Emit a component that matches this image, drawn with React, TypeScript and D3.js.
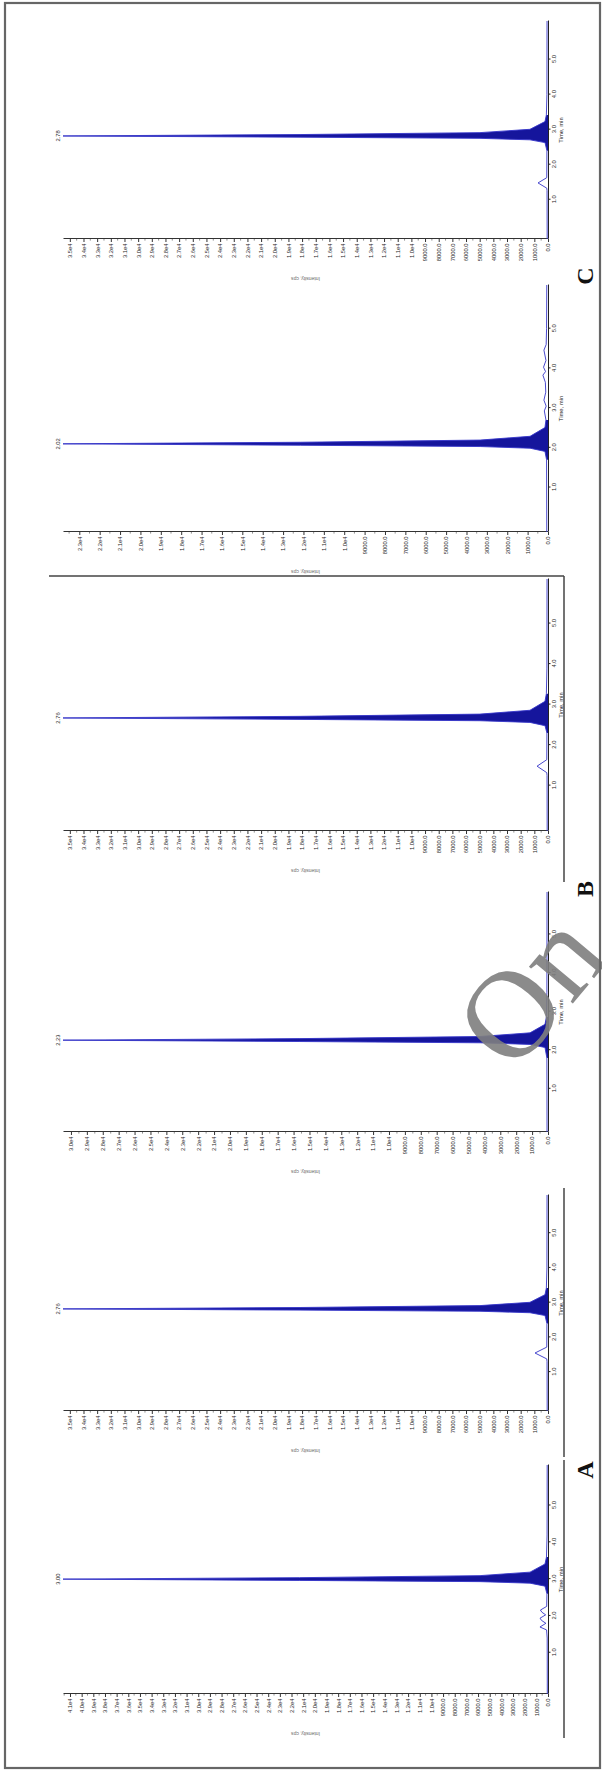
import React, { useEffect, useRef } from 'react';
import * as d3 from 'd3';

// Six chromatograms (A, B, C pairs). The whole page is rotated 90° CCW,
// so everything is drawn in landscape space and then turned.

const timeTicks = [1.0, 2.0, 3.0, 4.0, 5.0];
const groupLetters = ['A', 'B', 'C'];
const peakLabels = ['3.00', '2.76', '2.23', '2.76', '2.02', '2.78'];
const intensityMax = [41600, 35500, 30500, 35500, 23800, 35500];

// [time (min), intensity (cps)]
const traceA1 = [
  [-0.12, 60], [1.4, 70], [1.62, 120], [1.7, 690], [1.8, 180], [1.88, 560], [1.94, 680],
  [2.03, 200], [2.1, 520], [2.16, 650], [2.26, 110], [2.6, 90], [2.81, 260], [2.89, 1540],
  [2.932, 5830], [2.965, 21300], [3.0, 41600], [3.04, 21300], [3.095, 5830], [3.19, 1540],
  [3.41, 260], [3.6, 130], [4.2, 80], [6.1, 70],
];
const traceA2 = [
  [-0.12, 60], [1.3, 70], [1.38, 90], [1.55, 950], [1.72, 90], [2.4, 80], [2.63, 220],
  [2.71, 1320], [2.752, 4980], [2.785, 18150], [2.82, 35500], [2.86, 18150], [2.915, 4980],
  [3.01, 1320], [3.23, 220], [3.42, 120], [4.0, 80], [6.1, 70],
];
const traceB1 = [
  [-0.12, 60], [1.8, 70], [2.07, 190], [2.15, 1130], [2.192, 4280], [2.225, 15600],
  [2.26, 30500], [2.3, 15600], [2.355, 4280], [2.45, 1130], [2.67, 190], [2.86, 100],
  [3.5, 70], [6.1, 60],
];
const traceB2 = [
  [-0.12, 60], [1.25, 70], [1.32, 90], [1.48, 800], [1.64, 90], [2.3, 80], [2.48, 220],
  [2.56, 1320], [2.602, 4980], [2.635, 18150], [2.67, 35500], [2.71, 18150], [2.765, 4980],
  [2.86, 1320], [3.08, 220], [3.27, 120], [3.9, 80], [6.1, 70],
];
const traceC1 = [
  [-0.12, 60], [1.7, 70], [1.91, 150], [1.99, 880], [2.032, 3330], [2.065, 12150],
  [2.1, 23800], [2.14, 12150], [2.195, 3330], [2.29, 880], [2.51, 150], [2.7, 100],
  [2.93, 180], [3.05, 90], [3.2, 200], [3.4, 110], [3.65, 130], [3.83, 250], [3.92, 120],
  [4.03, 220], [4.2, 100], [4.46, 200], [4.6, 90], [5.0, 70], [6.1, 60],
];
const traceC2 = [
  [-0.12, 60], [1.26, 70], [1.33, 90], [1.48, 730], [1.63, 90], [2.4, 80], [2.63, 220],
  [2.71, 1320], [2.752, 4980], [2.785, 18150], [2.82, 35500], [2.86, 18150], [2.915, 4980],
  [3.01, 1320], [3.23, 220], [3.42, 120], [4.0, 80], [6.1, 70],
];
const traces = [traceA1, traceA2, traceB1, traceB2, traceC1, traceC2];

// layout (landscape coordinates, before the rotation)
const W = 602;
const H = 1771;
const TIME_DOMAIN = [-0.12, 6.1];
const Y_ZERO = 548;
const Y_TOP = 63;
const frames = [
  { x0: 77, x1: 306 },
  { x0: 360, x1: 576 },
  { x0: 639, x1: 879 },
  { x0: 940, x1: 1192 },
  { x0: 1239, x1: 1486 },
  { x0: 1532, x1: 1750 },
];
const letterX = [301, 882, 1495];
const SANS = 'Liberation Sans, Arial, sans-serif';
const SERIF = 'Liberation Serif, Times New Roman, serif';

const fmtIntensity = (v) => (v === 0 ? '0.0' : v < 10000 ? v.toFixed(1) : `${(v / 10000).toFixed(1)}e4`);

export default function App() {
  const svgRef = useRef(null);

  useEffect(() => {
    const svg = d3.select(svgRef.current);
    svg.selectAll('*').remove();
    svg.append('rect').attr('width', W).attr('height', H).attr('fill', '#fff');

    const g = svg.append('g').attr('transform', `translate(0,${H}) rotate(-90)`);

    traces.forEach((data, i) => {
      const f = frames[i];
      const max = intensityMax[i];
      const x = d3.scaleLinear().domain(TIME_DOMAIN).range([f.x0, f.x1]);
      const y = d3.scaleLinear().domain([0, max]).range([Y_ZERO, Y_TOP]);
      const p = g.append('g');

      // intensity axis
      const yAxis = p.append('g').attr('transform', `translate(${f.x0},0)`)
        .call(d3.axisLeft(y).tickValues(d3.range(0, max + 1, 1000)).tickSize(3).tickSizeOuter(0)
          .tickPadding(1.5).tickFormat(fmtIntensity));
      yAxis.attr('color', '#333').attr('font-size', 5.8).attr('font-family', SANS);
      yAxis.selectAll('text').attr('fill', '#1e1e1e');
      p.append('g').selectAll('line').data(d3.range(500, max, 1000)).join('line')
        .attr('x1', f.x0).attr('x2', f.x0 - 1.6).attr('y1', d => y(d)).attr('y2', d => y(d))
        .attr('stroke', '#444').attr('stroke-width', 0.6);

      // time axis
      const xAxis = p.append('g').attr('transform', `translate(0,${Y_ZERO})`)
        .call(d3.axisBottom(x).tickValues(timeTicks).tickSize(2.5).tickSizeOuter(0)
          .tickPadding(1).tickFormat(d3.format('.1f')));
      xAxis.attr('color', '#222').attr('font-size', 5.8).attr('font-family', SANS);

      // axis titles
      p.append('text').attr('x', (f.x0 + f.x1) / 2).attr('y', Y_ZERO + 15)
        .attr('text-anchor', 'middle').attr('font-size', 5.8).attr('font-family', SANS)
        .attr('fill', '#222').text('Time, min');
      p.append('text')
        .attr('transform', `translate(${f.x0 - 38},${(Y_ZERO + Y_TOP) / 2}) rotate(-90)`)
        .attr('text-anchor', 'middle').attr('font-size', 5).attr('font-family', SANS)
        .attr('fill', '#666').text('Intensity, cps');

      // trace: main peak filled, rest as a thin line
      const apex = data.reduce((a, b) => (b[1] > a[1] ? b : a));
      const peakPart = data.filter(d => Math.abs(d[0] - apex[0]) <= 0.7);
      const area = d3.area().x(d => x(d[0])).y0(Y_ZERO).y1(d => y(d[1]));
      const line = d3.line().x(d => x(d[0])).y(d => y(d[1]));
      p.append('path').datum(peakPart).attr('d', area).attr('fill', '#15159c');
      p.append('path').datum(data).attr('d', line).attr('fill', 'none')
        .attr('stroke', '#3434c8').attr('stroke-width', 0.9).attr('stroke-linejoin', 'round');

      // apex label
      p.append('text').attr('x', x(apex[0])).attr('y', y(apex[1]) - 3)
        .attr('text-anchor', 'middle').attr('font-size', 5.8).attr('font-family', SANS)
        .attr('fill', '#1e1e1e').text(peakLabels[i]);
    });

    // image edges that came with the screenshots
    const edges = [[33, 311], [314, 583], [889, 1195]];
    g.append('g').selectAll('line').data(edges).join('line')
      .attr('x1', d => d[0]).attr('x2', d => d[1]).attr('y1', 564).attr('y2', 564)
      .attr('stroke', '#444').attr('stroke-width', 1.5);
    g.append('line').attr('x1', 1195).attr('x2', 1195).attr('y1', 49).attr('y2', 564)
      .attr('stroke', '#444').attr('stroke-width', 1.5);

    // group letters
    g.append('g').selectAll('text').data(groupLetters).join('text')
      .attr('x', (d, i) => letterX[i]).attr('y', 593).attr('text-anchor', 'middle')
      .attr('font-family', SERIF).attr('font-weight', 'bold').attr('font-size', 24)
      .attr('fill', '#111').text(d => d);

    // watermark (cut by the page edge in the source)
    svg.append('text').attr('transform', 'translate(513,1075) rotate(-50)')
      .attr('font-family', SERIF).attr('font-size', 125).attr('fill', '#7f7f7f')
      .attr('opacity', 0.9).text('On');

    // outer frame
    svg.append('rect').attr('x', 5).attr('y', 3).attr('width', 595).attr('height', 1765)
      .attr('fill', 'none').attr('stroke', '#666').attr('stroke-width', 2.2);
  }, []);

  return (
    <div style={{ position: 'absolute', left: 0, top: 0 }}>
      <svg ref={svgRef} width={W} height={H} style={{ display: 'block' }} />
    </div>
  );
}
